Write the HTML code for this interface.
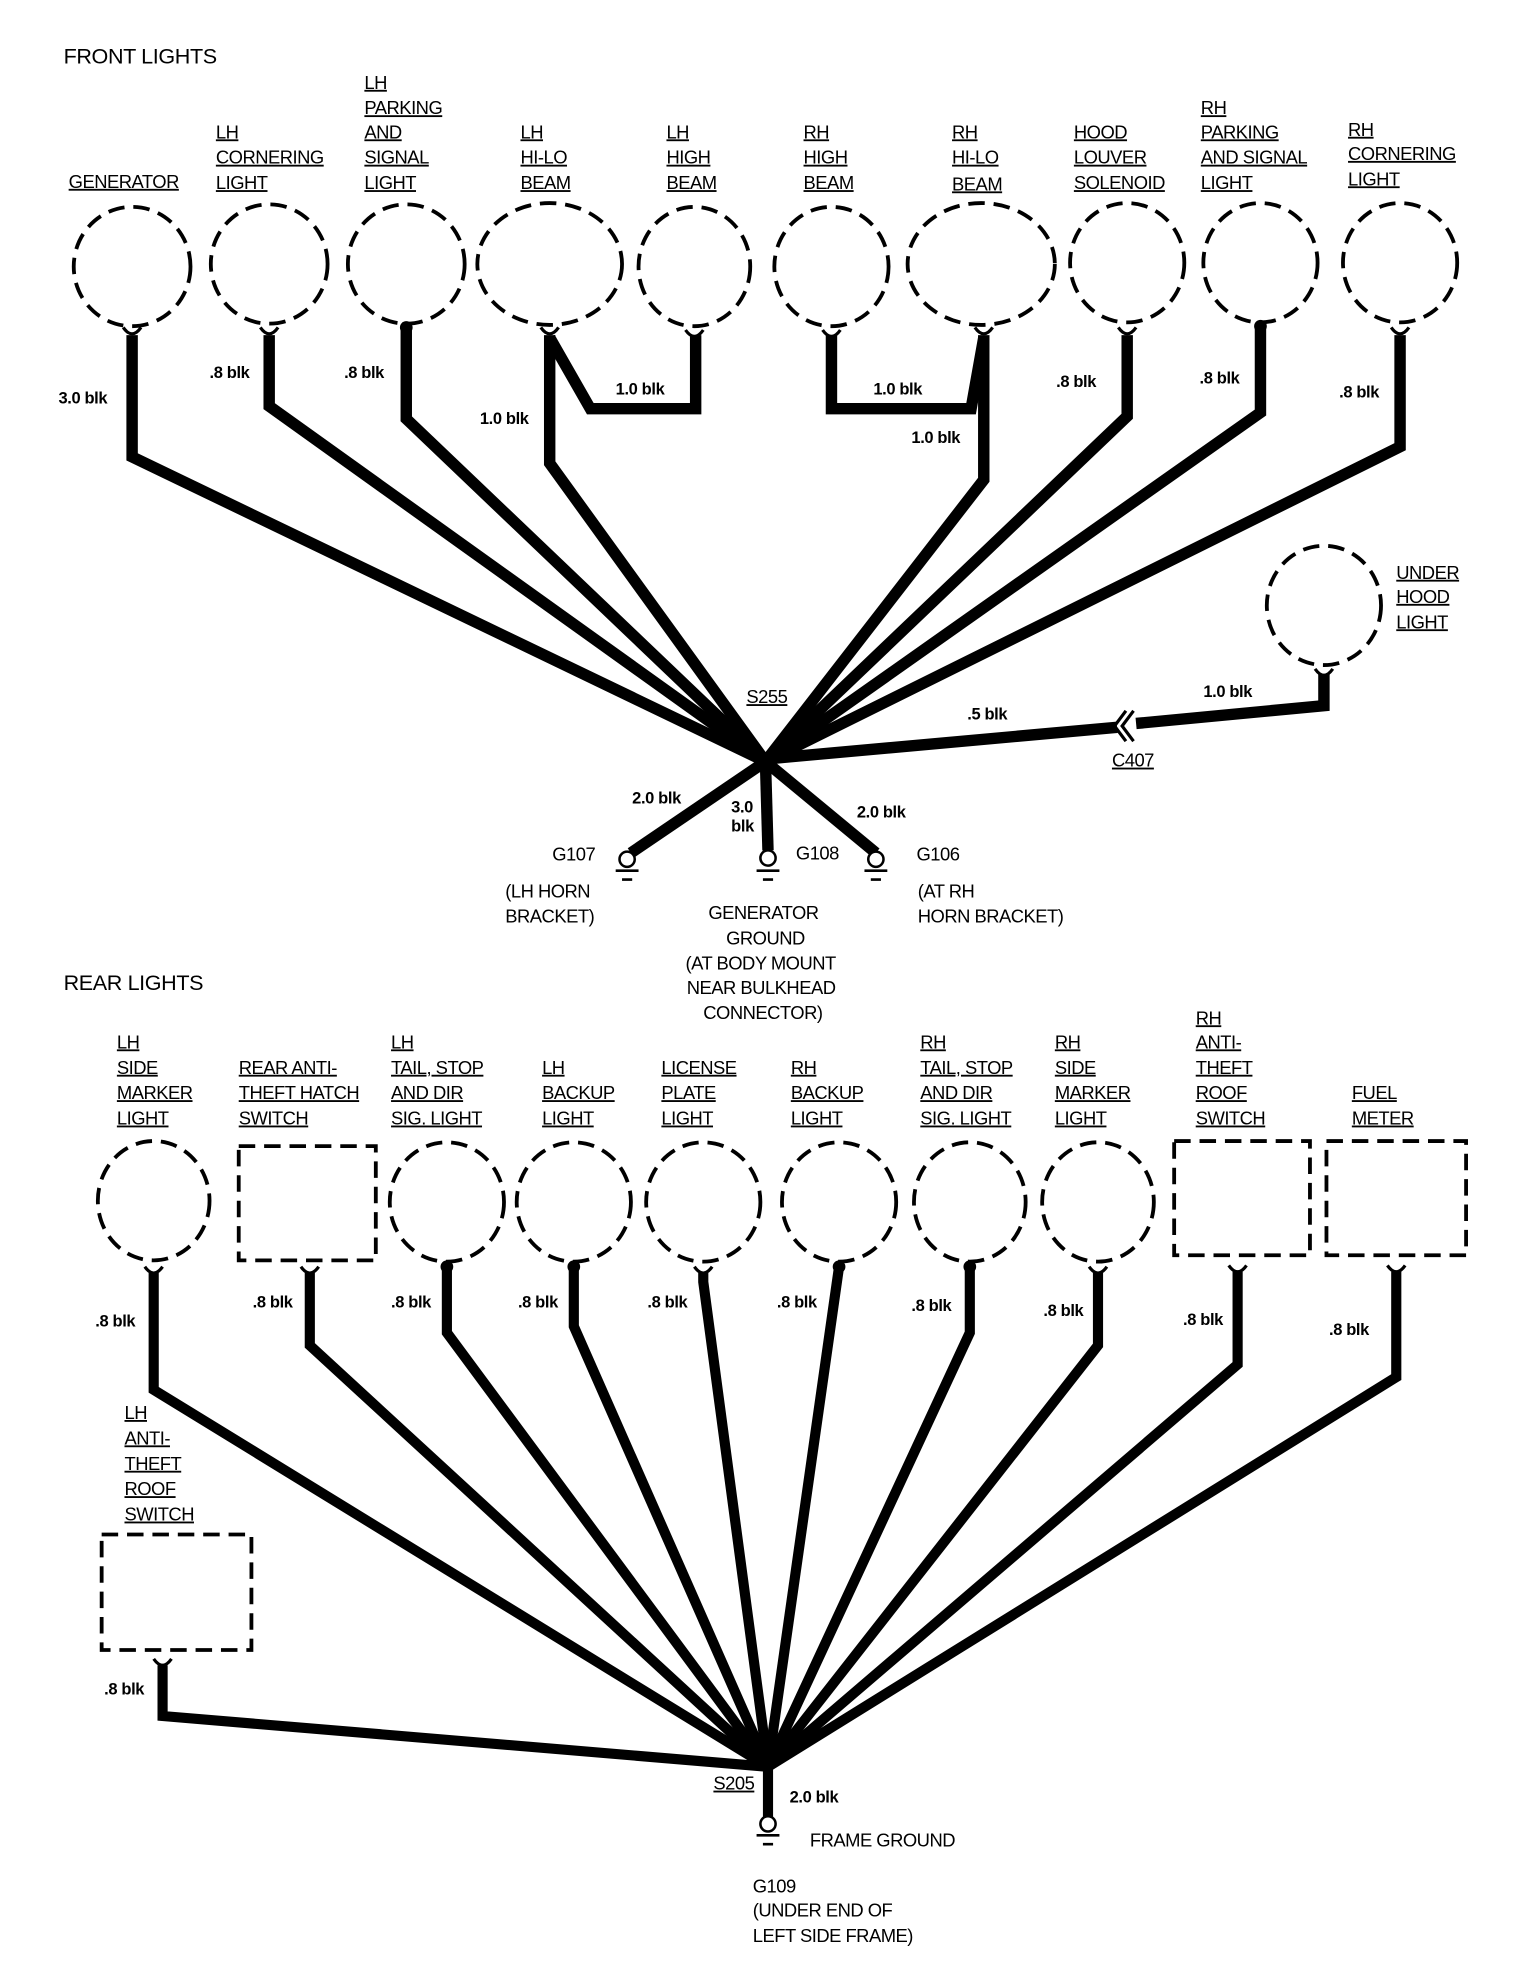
<!DOCTYPE html>
<html><head><meta charset="utf-8"><style>
html,body{margin:0;padding:0;background:#fff}
svg{display:block}
text{font-family:"Liberation Sans",sans-serif;fill:#000}
.l{font-size:14.5px;text-decoration:underline;letter-spacing:-0.4px}
.p{font-size:14.5px;letter-spacing:-0.4px}
.b{font-size:13px;font-weight:bold;letter-spacing:-0.3px}
.h{font-size:17px;letter-spacing:-0.3px}
.d{fill:none;stroke:#000;stroke-width:3;stroke-dasharray:13 7}
.w{fill:none;stroke:#000;stroke-width:9;stroke-linejoin:miter}
.r{fill:none;stroke:#000;stroke-width:8;stroke-linejoin:miter}
.c{fill:none;stroke:#000;stroke-width:2.5}
</style></head><body>
<svg width="1536" height="1980" viewBox="0 0 1210 1560" xmlns="http://www.w3.org/2000/svg">
<!-- FRONT -->
<text class="h" x="50" y="50">FRONT LIGHTS</text>
<text class="l" x="54" y="148">GENERATOR</text>
<text class="l" x="170" y="109">LH</text><text class="l" x="170" y="129">CORNERING</text><text class="l" x="170" y="149">LIGHT</text>
<text class="l" x="287" y="70">LH</text><text class="l" x="287" y="90">PARKING</text><text class="l" x="287" y="109">AND</text><text class="l" x="287" y="129">SIGNAL</text><text class="l" x="287" y="149">LIGHT</text>
<text class="l" x="410" y="109">LH</text><text class="l" x="410" y="129">HI-LO</text><text class="l" x="410" y="149">BEAM</text>
<text class="l" x="525" y="109">LH</text><text class="l" x="525" y="129">HIGH</text><text class="l" x="525" y="149">BEAM</text>
<text class="l" x="633" y="109">RH</text><text class="l" x="633" y="129">HIGH</text><text class="l" x="633" y="149">BEAM</text>
<text class="l" x="750" y="109">RH</text><text class="l" x="750" y="129">HI-LO</text><text class="l" x="750" y="150">BEAM</text>
<text class="l" x="846" y="109">HOOD</text><text class="l" x="846" y="129">LOUVER</text><text class="l" x="846" y="149">SOLENOID</text>
<text class="l" x="946" y="90">RH</text><text class="l" x="946" y="109">PARKING</text><text class="l" x="946" y="129">AND SIGNAL</text><text class="l" x="946" y="149">LIGHT</text>
<text class="l" x="1062" y="107">RH</text><text class="l" x="1062" y="126">CORNERING</text><text class="l" x="1062" y="146">LIGHT</text>
<text class="l" x="1100" y="456">UNDER</text><text class="l" x="1100" y="475">HOOD</text><text class="l" x="1100" y="495">LIGHT</text>

<ellipse class="d" cx="104" cy="210" rx="46" ry="47"/>
<ellipse class="d" cx="212" cy="208" rx="46" ry="47"/>
<ellipse class="d" cx="320" cy="208" rx="46" ry="47"/>
<ellipse class="d" cx="433" cy="208" rx="57" ry="48"/>
<ellipse class="d" cx="547" cy="210" rx="44" ry="47"/>
<ellipse class="d" cx="655" cy="210" rx="45" ry="47"/>
<ellipse class="d" cx="773" cy="208" rx="58" ry="48"/>
<ellipse class="d" cx="888" cy="207" rx="45" ry="47"/>
<ellipse class="d" cx="993" cy="207" rx="45" ry="47"/>
<ellipse class="d" cx="1103" cy="207" rx="45" ry="47"/>
<ellipse class="d" cx="1043" cy="477" rx="45" ry="47"/>

<!-- connector caps -->
<g class="c">
<path d="M97,258 Q104,268 111,258"/><path d="M205,258 Q212,268 219,258"/>
<path d="M426,258 Q433,268 440,258"/><path d="M540,260 Q547,270 554,260"/>
<path d="M648,260 Q655,270 662,260"/><path d="M768,258 Q775,268 782,258"/>
<path d="M881,258 Q888,268 895,258"/><path d="M1096,258 Q1103,268 1110,258"/>
<path d="M1036,527 Q1043,537 1050,527"/>
</g>
<circle cx="320" cy="258" r="5"/><circle cx="993" cy="257" r="5"/>

<polyline class="w" points="104,264 104,360 603,600"/>
<polyline class="w" points="212,264 212,320 603,600"/>
<polyline class="w" points="320,258 320,330 603,600"/>
<polyline class="w" points="433,264 433,365 603,600"/>
<polyline class="w" points="433,266 465,322 548,322 548,264"/>
<polyline class="w" points="655,264 655,322 765,322 775,266"/>
<polyline class="w" points="775,264 775,378 603,600"/>
<polyline class="w" points="888,264 888,328 603,600"/>
<polyline class="w" points="993,258 993,325 603,600"/>
<polyline class="w" points="1103,264 1103,352 603,600"/>
<polyline class="w" points="1043,531 1043,556 895,570"/>
<polyline class="w" points="880,573 603,598"/>
<path d="M893,560 L884,572 L893,584 M887,560 L878,572 L887,584" fill="none" stroke="#000" stroke-width="2.5"/>
<polyline class="w" points="603,600 497,672"/>
<polyline class="w" points="603,600 605,670"/>
<polyline class="w" points="603,600 690,672"/>
<!-- grounds -->
<g fill="none" stroke="#000" stroke-width="2">
<circle cx="494" cy="677" r="6" fill="#fff"/><path d="M485,686 H503 M490,693 H498"/>
<circle cx="605" cy="676" r="6" fill="#fff"/><path d="M596,686 H614 M601,693 H609"/>
<circle cx="690" cy="677" r="6" fill="#fff"/><path d="M681,686 H699 M686,693 H694"/>
</g>

<text class="b" x="46" y="318">3.0 blk</text>
<text class="b" x="165" y="298">.8 blk</text>
<text class="b" x="271" y="298">.8 blk</text>
<text class="b" x="378" y="334">1.0 blk</text>
<text class="b" x="485" y="311">1.0 blk</text>
<text class="b" x="688" y="311">1.0 blk</text>
<text class="b" x="718" y="349">1.0 blk</text>
<text class="b" x="832" y="305">.8  blk</text>
<text class="b" x="945" y="302">.8 blk</text>
<text class="b" x="1055" y="313">.8 blk</text>
<text class="b" x="948" y="549">1.0 blk</text>
<text class="b" x="762" y="567">.5 blk</text>
<text class="l" x="588" y="554">S255</text>
<text class="l" x="876" y="604">C407</text>
<text class="b" x="498" y="633">2.0 blk</text>
<text class="b" x="576" y="640">3.0</text><text class="b" x="576" y="655">blk</text>
<text class="b" x="675" y="644">2.0  blk</text>
<text class="p" x="435" y="678">G107</text>
<text class="p" x="627" y="677">G108</text>
<text class="p" x="722" y="678">G106</text>
<text class="p" x="398" y="707">(LH HORN</text><text class="p" x="398" y="727">BRACKET)</text>
<text class="p" x="558" y="724">GENERATOR</text>
<text class="p" x="572" y="744">GROUND</text>
<text class="p" x="540" y="764">(AT BODY MOUNT</text>
<text class="p" x="541" y="783">NEAR BULKHEAD</text>
<text class="p" x="554" y="803">CONNECTOR)</text>
<text class="p" x="723" y="707">(AT RH</text><text class="p" x="723" y="727">HORN BRACKET)</text>

<!-- REAR -->
<text class="h" x="50" y="780">REAR LIGHTS</text>
<text class="l" x="92" y="826">LH</text><text class="l" x="92" y="846">SIDE</text><text class="l" x="92" y="866">MARKER</text><text class="l" x="92" y="886">LIGHT</text>
<text class="l" x="188" y="846">REAR ANTI-</text><text class="l" x="188" y="866">THEFT HATCH</text><text class="l" x="188" y="886">SWITCH</text>
<text class="l" x="308" y="826">LH</text><text class="l" x="308" y="846">TAIL, STOP</text><text class="l" x="308" y="866">AND DIR</text><text class="l" x="308" y="886">SIG. LIGHT</text>
<text class="l" x="427" y="846">LH</text><text class="l" x="427" y="866">BACKUP</text><text class="l" x="427" y="886">LIGHT</text>
<text class="l" x="521" y="846">LICENSE</text><text class="l" x="521" y="866">PLATE</text><text class="l" x="521" y="886">LIGHT</text>
<text class="l" x="623" y="846">RH</text><text class="l" x="623" y="866">BACKUP</text><text class="l" x="623" y="886">LIGHT</text>
<text class="l" x="725" y="826">RH</text><text class="l" x="725" y="846">TAIL, STOP</text><text class="l" x="725" y="866">AND DIR</text><text class="l" x="725" y="886">SIG. LIGHT</text>
<text class="l" x="831" y="826">RH</text><text class="l" x="831" y="846">SIDE</text><text class="l" x="831" y="866">MARKER</text><text class="l" x="831" y="886">LIGHT</text>
<text class="l" x="942" y="807">RH</text><text class="l" x="942" y="826">ANTI-</text><text class="l" x="942" y="846">THEFT</text><text class="l" x="942" y="866">ROOF</text><text class="l" x="942" y="886">SWITCH</text>
<text class="l" x="1065" y="866">FUEL</text><text class="l" x="1065" y="886">METER</text>
<text class="l" x="98" y="1118">LH</text><text class="l" x="98" y="1138">ANTI-</text><text class="l" x="98" y="1158">THEFT</text><text class="l" x="98" y="1178">ROOF</text><text class="l" x="98" y="1198">SWITCH</text>

<ellipse class="d" cx="121" cy="946" rx="44" ry="47"/>
<rect class="d" x="188" y="903" width="108" height="90"/>
<ellipse class="d" cx="352" cy="947" rx="45" ry="47"/>
<ellipse class="d" cx="452" cy="947" rx="45" ry="47"/>
<ellipse class="d" cx="554" cy="947" rx="45" ry="47"/>
<ellipse class="d" cx="661" cy="947" rx="45" ry="47"/>
<ellipse class="d" cx="764" cy="947" rx="44" ry="47"/>
<ellipse class="d" cx="865" cy="947" rx="44" ry="47"/>
<rect class="d" x="925" y="899" width="107" height="90"/>
<rect class="d" x="1045" y="899" width="110" height="90"/>
<rect class="d" x="80" y="1209" width="118" height="91"/>

<g class="c">
<path d="M114,998 Q121,1008 128,998"/><path d="M237,998 Q244,1008 251,998"/>
<path d="M547,998 Q554,1008 561,998"/><path d="M858,998 Q865,1008 872,998"/>
<path d="M968,997 Q975,1007 982,997"/><path d="M1093,997 Q1100,1007 1107,997"/>
<path d="M121,1307 Q128,1317 135,1307"/>
</g>
<circle cx="352" cy="998" r="5"/><circle cx="452" cy="998" r="5"/>
<circle cx="661" cy="998" r="5"/><circle cx="764" cy="998" r="5"/>

<polyline class="r" points="121,1003 121,1095 605,1392"/>
<polyline class="r" points="244,1003 244,1060 605,1392"/>
<polyline class="r" points="352,998 352,1050 605,1392"/>
<polyline class="r" points="452,998 452,1045 605,1392"/>
<polyline class="r" points="554,1003 554,1010 605,1392"/>
<polyline class="r" points="661,998 605,1392"/>
<polyline class="r" points="764,998 764,1050 605,1392"/>
<polyline class="r" points="865,1003 865,1060 605,1392"/>
<polyline class="r" points="975,1002 975,1075 605,1392"/>
<polyline class="r" points="1100,1002 1100,1085 605,1392"/>
<polyline class="r" points="128,1312 128,1352 605,1392"/>
<polyline class="r" points="605,1392 605,1432"/>
<g fill="none" stroke="#000" stroke-width="2">
<circle cx="605" cy="1437" r="6" fill="#fff"/><path d="M596,1446 H614 M601,1453 H609"/>
</g>

<text class="b" x="75" y="1045">.8 blk</text>
<text class="b" x="199" y="1030">.8 blk</text>
<text class="b" x="308" y="1030">.8 blk</text>
<text class="b" x="408" y="1030">.8 blk</text>
<text class="b" x="510" y="1030">.8 blk</text>
<text class="b" x="612" y="1030">.8 blk</text>
<text class="b" x="718" y="1033">.8 blk</text>
<text class="b" x="822" y="1037">.8 blk</text>
<text class="b" x="932" y="1044">.8 blk</text>
<text class="b" x="1047" y="1052">.8 blk</text>
<text class="b" x="82" y="1335">.8 blk</text>
<text class="l" x="562" y="1410">S205</text>
<text class="b" x="622" y="1420">2.0 blk</text>
<text class="p" x="638" y="1455">FRAME GROUND</text>
<text class="p" x="593" y="1491">G109</text>
<text class="p" x="593" y="1510">(UNDER END OF</text>
<text class="p" x="593" y="1530">LEFT SIDE FRAME)</text>
</svg>
</body></html>
